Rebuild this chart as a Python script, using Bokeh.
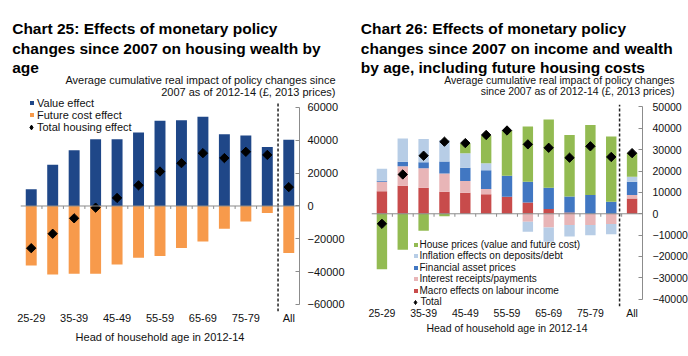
import math
from bokeh.plotting import figure
from bokeh.layouts import row, column
from bokeh.models import (Range1d, FixedTicker, Label, Legend, LegendItem, Span,
                          ColumnDataSource, BasicTickFormatter)
from bokeh.embed import file_html
from bokeh.resources import INLINE

# ---------------- data ----------------
ages = ["25-29", "30-34", "35-39", "40-44", "45-49", "50-54", "55-59",
        "60-64", "65-69", "70-74", "75-79", "80+", "All"]

# Chart 25 (GBP, 2013 prices)
value_effect = [10200, 25100, 34000, 40600, 40600, 44700, 52000, 52200, 54300, 43700, 43000, 35900, 40400]
future_cost_effect = [-36200, -41700, -41300, -41300, -35600, -31500, -30500, -25600, -21600, -13900, -9400, -4300, -28700]
total_housing_effect = [-25700, -16900, -7500, -1000, 4900, 12600, 21000, 26100, 32200, 29200, 33000, 31100, 11500]

# Chart 26 (GBP, 2013 prices)
macro_labour_income = [10500, 13100, 12200, 10300, 9800, 9100, 8000, 5300, 2200, 600, 0, 0, 7200]
interest_receipts = [4500, 9100, 9100, 8600, 5600, 2500, 0, -3750, -6400, -5300, -5300, -4800, 1600]
financial_asset_prices = [500, 2200, 2800, 5600, 6100, 8800, 9800, 9700, 10000, 7500, 8750, 5600, 6250]
inflation_effects = [5600, 10900, 10900, 10000, 6900, 3300, 0, -4700, -6700, -5300, -4700, -4800, 2300]
house_prices = [-26000, -16900, -8000, -1200, 4500, 13000, 21100, 25900, 31900, 28750, 32800, 30600, 11100]
total_effect = [-4700, 18400, 27200, 33750, 33100, 36900, 39000, 32500, 30900, 26250, 31600, 26600, 28400]

y_ticks_25 = [-60000, -40000, -20000, 0, 20000, 40000, 60000]
y_ticks_26 = [-40000, -30000, -20000, -10000, 0, 10000, 20000, 30000, 40000, 50000]
x_tick_idx = list(range(0, len(ages), 2))

title_25 = ["Chart 25: Effects of monetary policy",
            "changes since 2007 on housing wealth by",
            "age"]
title_26 = ["Chart 26: Effects of monetary policy",
            "changes since 2007 on income and wealth",
            "by age, including future housing costs"]
sub_25 = ["Average cumulative real impact of policy changes since",
          "2007 as of 2012-14 (\u00a3, 2013 prices)"]
sub_26 = ["Average cumulative real impact of policy changes",
          "since 2007 as of 2012-14 (\u00a3, 2013 prices)"]
x_title = "Head of household age in 2012-14"

# ---------------- style ----------------
FONT = "Liberation Sans"
TXT = "#111111"
AXC = "#8c8c8c"
DARK_BLUE = "#1f4788"
ORANGE = "#f79a4b"
GREEN = "#93bb52"
LIGHT_BLUE = "#b7cde6"
BLUE = "#4177c2"
PINK = "#e8b5b7"
RED = "#c84b4b"

xs = list(range(len(ages)))
TITLE_H = 98
W1, W2 = 344, 344


def make_fig(fl, fw, fr, fh, y0, y1, yticks, fsize, ystand, tstand):
    p = figure(frame_width=fw, frame_height=fh,
               min_border_left=fl, min_border_right=fr,
               min_border_top=0, min_border_bottom=10,
               x_range=Range1d(-0.5, len(ages) - 0.5), y_range=Range1d(y0, y1),
               y_axis_location="right", output_backend="svg", toolbar_location=None,
               background_fill_color="white", border_fill_color="white")
    p.outline_line_color = None
    p.xgrid.visible = False
    p.ygrid.visible = False
    xa = p.xaxis[0]
    xa.ticker = FixedTicker(ticks=x_tick_idx)
    xa.major_label_overrides = {i: ages[i] for i in x_tick_idx}
    xa.axis_line_color = None
    xa.major_tick_line_color = None
    xa.minor_tick_line_color = None
    xa.major_tick_in = 0
    xa.major_tick_out = 0
    xa.major_label_standoff = 0
    xa.major_label_text_font = FONT
    xa.major_label_text_font_size = fsize
    xa.major_label_text_color = TXT
    xa.axis_label = x_title
    xa.axis_label_text_font = FONT
    xa.axis_label_text_font_size = fsize
    xa.axis_label_text_font_style = "normal"
    xa.axis_label_text_color = TXT
    xa.axis_label_standoff = tstand
    ya = p.yaxis[0]
    ya.ticker = FixedTicker(ticks=yticks)
    ya.formatter = BasicTickFormatter(use_scientific=False)
    ya.bounds = (min(yticks), max(yticks))
    ya.axis_line_color = AXC
    ya.major_tick_line_color = AXC
    ya.major_tick_in = 4
    ya.major_tick_out = 0
    ya.minor_tick_line_color = None
    ya.major_label_standoff = ystand
    ya.major_label_text_font = FONT
    ya.major_label_text_font_size = fsize
    ya.major_label_text_color = TXT
    return p


def add_titles(t, title_lines, tx, tys, sub_lines, sx, sys_, sub_size):
    for line, ty in zip(title_lines, tys):
        t.add_layout(Label(x=tx, y=ty, x_units="screen", y_units="screen", text=line,
                           text_font=FONT, text_font_size="15.5px", text_font_style="bold",
                           text_color="#000000", text_baseline="alphabetic", text_align="left"))
    for line, sy in zip(sub_lines, sys_):
        t.add_layout(Label(x=sx, y=sy, x_units="screen", y_units="screen", text=line,
                           text_font=FONT, text_font_size=sub_size, text_color=TXT,
                           text_baseline="middle", text_align="right"))


def add_legend(p, text, renderer, x, yc, gw, gh, standoff, size, h=12):
    lg = Legend(items=[LegendItem(label=text, renderers=[renderer])],
                location=(x, yc - h / 2), padding=0, margin=0, spacing=0,
                glyph_width=gw, glyph_height=gh, label_height=h, label_standoff=standoff,
                label_text_font=FONT, label_text_font_size=size, label_text_color=TXT,
                background_fill_alpha=0, border_line_alpha=0, inactive_fill_alpha=0)
    p.add_layout(lg)


def zero_axis(p, tick_len):
    p.add_layout(Span(location=0, dimension="width", line_color=AXC, line_width=1))
    bounds = [i + 0.5 for i in range(len(ages) - 1)]
    p.segment(x0=bounds, x1=bounds, y0=[0] * len(bounds), y1=[-tick_len] * len(bounds),
              line_color=AXC, line_width=1)


# ---------------- titles (one strip above both charts) ----------------
t = figure(width=W1 + W2, height=TITLE_H, min_border=0, x_range=Range1d(0, W1 + W2),
           y_range=Range1d(0, TITLE_H), x_axis_location=None, y_axis_location=None,
           output_backend="svg", toolbar_location=None,
           background_fill_color="white", border_fill_color="white")
t.outline_line_color = None
t.xgrid.visible = False
t.ygrid.visible = False
add_titles(t, title_25, 11.7, [69.7, 50.2, 30.7], sub_25, 335, [19, 6.5], "11px")
add_titles(t, title_26, W1 + 16.3, [69.7, 50.2, 30.7], sub_26, W1 + 330, [18.5, 7.5], "10.5px")

# ---------------- Chart 25 ----------------
Y25 = (-64264, 65482)
p1 = make_fig(20, 279, 45, 213, Y25[0], Y25[1], y_ticks_25, "11px", 8, 4)
src1 = ColumnDataSource(dict(x=xs, value=value_effect, cost=future_cost_effect,
                             total=total_housing_effect))
r_val = p1.vbar(x="x", top="value", bottom=0, width=0.51, source=src1,
                fill_color=DARK_BLUE, line_color=None)
r_cost = p1.vbar(x="x", top=0, bottom="cost", width=0.51, source=src1,
                 fill_color=ORANGE, line_color=None)
zero_axis(p1, 1800)
p1.segment(x0=[len(ages) - 1.5], x1=[len(ages) - 1.5], y0=[Y25[0]], y1=[63000],
           line_color="#222222", line_width=1.5, line_dash="3 2")
p1.scatter(x="x", y="total", source=src1, marker="square", angle=math.pi / 4,
           size=6.6, fill_color="black", line_color="black")
r_leg1 = p1.scatter(x="x", y="total", source=src1, marker="diamond", size=6,
                    fill_color="black", line_color="black", visible=False)
add_legend(p1, "Value effect", r_val, 9, 208.5, 5, 5, 3, "11px")
add_legend(p1, "Future cost effect", r_cost, 9, 196.5, 5, 5, 3, "11px")
add_legend(p1, "Total housing effect", r_leg1, 5, 184.5, 12, 12, 0, "11px")

# ---------------- Chart 26 ----------------
Y26 = (-43416, 53978)
p2 = make_fig(24, 271, 49, 208, Y26[0], Y26[1], y_ticks_26, "10.5px", 10, 0)
stack = [("Macro effects on labour income", macro_labour_income, RED),
         ("Interest receipts/payments", interest_receipts, PINK),
         ("Financial asset prices", financial_asset_prices, BLUE),
         ("Inflation effects on deposits/debt", inflation_effects, LIGHT_BLUE),
         ("House prices (value and future cost)", house_prices, GREEN)]
pos = [0] * len(ages)
neg = [0] * len(ages)
renderers = {}
for name, vals, col in stack:
    bot, top = [], []
    for i, v in enumerate(vals):
        if v >= 0:
            bot.append(pos[i]); top.append(pos[i] + v); pos[i] += v
        else:
            top.append(neg[i]); bot.append(neg[i] + v); neg[i] += v
    renderers[name] = p2.vbar(x=xs, bottom=bot, top=top, width=0.5,
                              fill_color=col, line_color=None)
zero_axis(p2, 1400)
p2.segment(x0=[len(ages) - 1.6], x1=[len(ages) - 1.6], y0=[Y26[0]], y1=[51000],
           line_color="#222222", line_width=1.5, line_dash="3 2")
src2 = ColumnDataSource(dict(x=xs, total=total_effect))
p2.scatter(x="x", y="total", source=src2, marker="square", angle=math.pi / 4,
           size=6.6, fill_color="black", line_color="black")
r_leg2 = p2.scatter(x="x", y="total", source=src2, marker="diamond", size=6,
                    fill_color="black", line_color="black", visible=False)
leg_order = ["House prices (value and future cost)", "Inflation effects on deposits/debt",
             "Financial asset prices", "Interest receipts/payments",
             "Macro effects on labour income"]
centers = [61.75, 50.25, 38.75, 27.25, 15.75]
for name, yc in zip(leg_order, centers):
    add_legend(p2, name, renderers[name], 41.5, yc, 5, 5, 2, "10px", h=11)
add_legend(p2, "Total", r_leg2, 38.5, 4.25, 10, 10, 1, "10px", h=11)

layout = column(t, row(p1, p2, spacing=0), spacing=0)
open("out.html", "w").write(file_html(layout, INLINE))
